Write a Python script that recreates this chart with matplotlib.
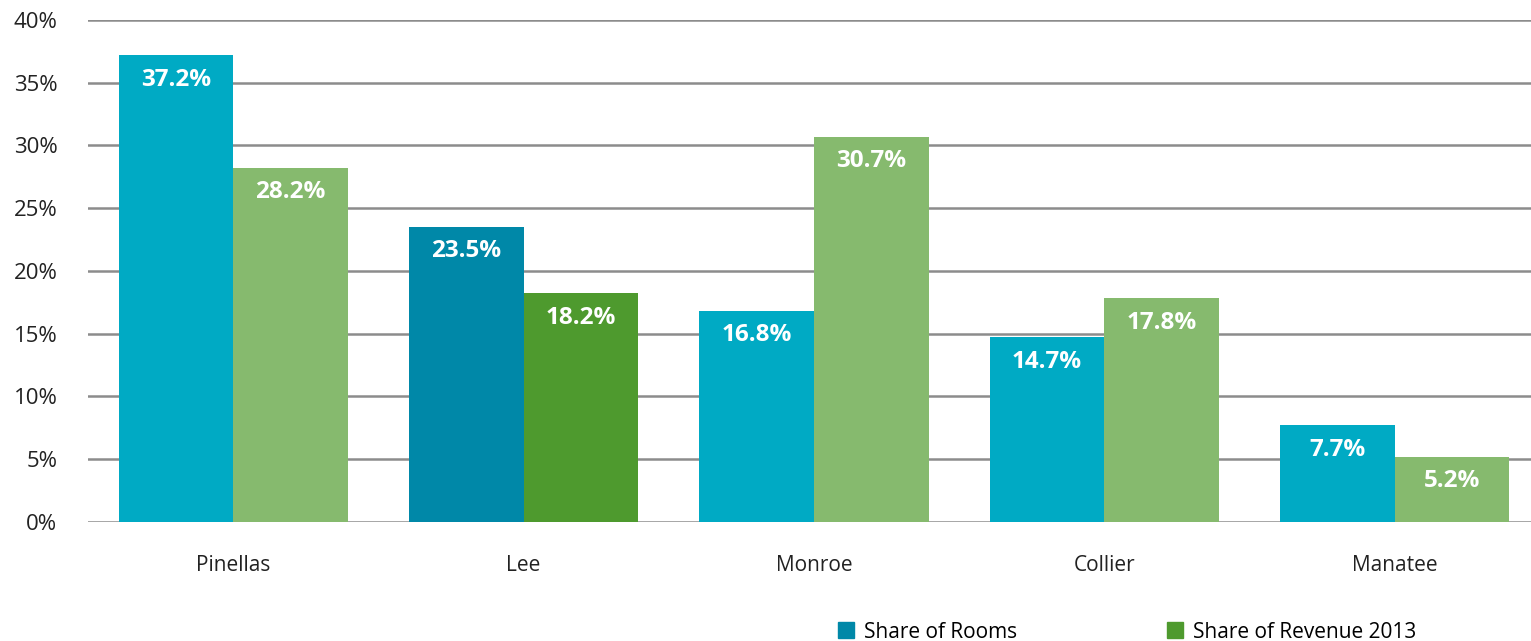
import matplotlib.pyplot as plt
import numpy as np

plt.rcParams['font.family'] = ['Open Sans', 'DejaVu Sans']

counties = ["Pinellas", "Lee", "Monroe", "Collier", "Manatee"]
rooms = [37.2, 23.5, 16.8, 14.7, 7.7]
revenue = [28.2, 18.2, 30.7, 17.8, 5.2]
yticks = [0, 5, 10, 15, 20, 25, 30, 35, 40]

# Lee is drawn in the darker shades
rooms_colors = ["#00AAC4", "#0088A8", "#00AAC4", "#00AAC4", "#00AAC4"]
revenue_colors = ["#86BA6E", "#4E9A2E", "#86BA6E", "#86BA6E", "#86BA6E"]

fig = plt.figure(figsize=(15.31, 6.41), dpi=100)
ax = fig.add_axes([0.0575, 0.186, 0.9425, 0.783])

x = np.arange(len(counties))
w = 0.395
b1 = ax.bar(x - w / 2, rooms, w, color=rooms_colors, zorder=3)
b2 = ax.bar(x + w / 2, revenue, w, color=revenue_colors, zorder=3)

for bars, vals in ((b1, rooms), (b2, revenue)):
    for bar, v in zip(bars, vals):
        ax.annotate(f"{v:.1f}%", (bar.get_x() + bar.get_width() / 2, v),
                    xytext=(0, -9), textcoords="offset points",
                    ha="center", va="top", color="white",
                    fontsize=17.5, fontweight="bold", zorder=4)

ax.set_ylim(0, 40)
ax.set_xlim(-0.5, 4.47)
ax.set_yticks(yticks)
ax.set_yticklabels([f"{t}%" for t in yticks], fontsize=16, color="#222222")
ax.set_xticks(x)
ax.set_xticklabels(counties, fontsize=15, color="#222222")
ax.tick_params(axis="both", length=0)
ax.tick_params(axis="y", pad=22)
ax.tick_params(axis="x", pad=24)
ax.yaxis.grid(True, color="#8C8C8C", linewidth=1.8, zorder=0)
for s in ax.spines.values():
    s.set_visible(False)

h1 = plt.Rectangle((0, 0), 1, 1, color="#0088A8")
h2 = plt.Rectangle((0, 0), 1, 1, color="#4E9A2E")
fig.legend([h1, h2], ["Share of Rooms", "Share of Revenue 2013"],
           loc="center", bbox_to_anchor=(0.736, 0.014), ncol=2,
           frameon=False, fontsize=15, handlelength=0.8, handleheight=0.8,
           handletextpad=0.45, columnspacing=7.2)

fig.savefig("out.png", dpi=100)
